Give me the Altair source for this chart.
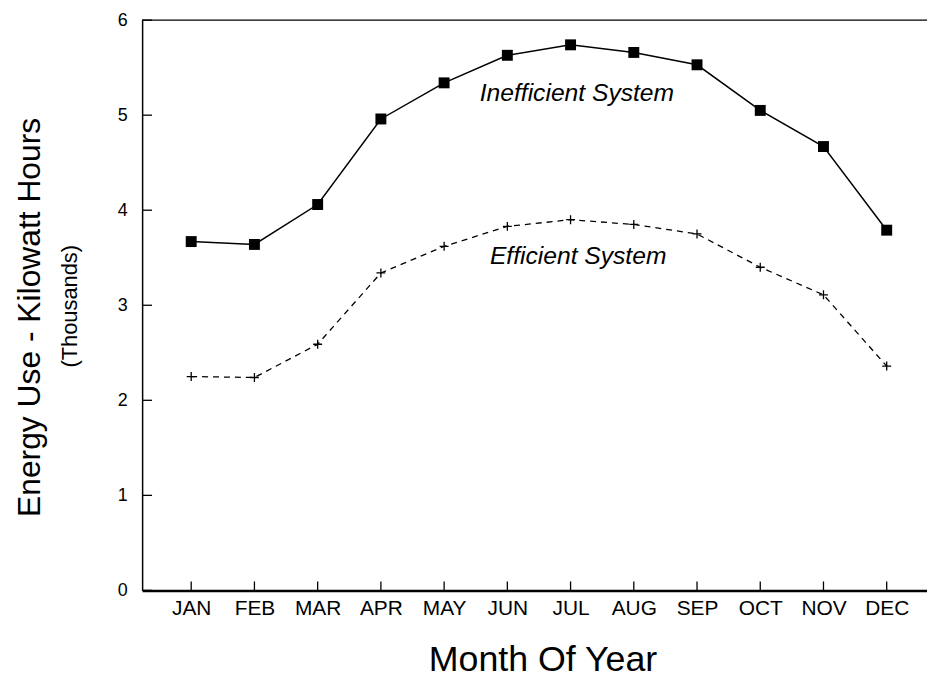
import altair as alt
import pandas as pd

months = ["JAN", "FEB", "MAR", "APR", "MAY", "JUN", "JUL", "AUG", "SEP", "OCT", "NOV", "DEC"]
inefficient = [3.67, 3.64, 4.06, 4.96, 5.34, 5.63, 5.74, 5.66, 5.53, 5.05, 4.67, 3.79]
efficient = [2.25, 2.24, 2.59, 3.34, 3.62, 3.83, 3.90, 3.85, 3.75, 3.40, 3.11, 2.36]
y_ticks = [0, 1, 2, 3, 4, 5, 6]
ann_labels = ["Inefficient System", "Efficient System"]
ann_x = [7.10, 7.12]
ann_y = [5.146, 3.433]

FONT = "Liberation Sans"
W, H = 790, 574
step = 63.64
x0 = 1 - 49.4 / step
x_dom = [x0, x0 + W / step]

idx = list(range(1, 13))
ineff_df = pd.DataFrame({"m": idx, "v": inefficient})
eff_df = pd.DataFrame({"m": idx, "v": efficient})
ann_df = pd.DataFrame({"m": ann_x, "v": ann_y, "label": ann_labels})
ytick_df = pd.DataFrame({"v": y_ticks})
xtick_df = pd.DataFrame({"m": idx})
thous_df = pd.DataFrame({"label": ["(Thousands)"]})

month_expr = "[" + ",".join("'%s'" % m for m in months) + "][datum.value - 1]"

x_axis = alt.Axis(
    values=idx, labelExpr=month_expr, grid=False, ticks=False, tickSize=0,
    domainColor="black", domainWidth=2.5, labelFont=FONT, labelFontSize=21,
    labelColor="black", labelPadding=7, title="Month Of Year", titleFont=FONT,
    titleFontSize=36, titleFontWeight="normal", titleColor="black",
    titleX=403, titleY=81, titleAlign="center", titleBaseline="alphabetic",
)
y_axis = alt.Axis(
    values=y_ticks, grid=False, ticks=False, tickSize=0, domainColor="black",
    domainWidth=1.5, labelFont=FONT, labelFontSize=18, labelColor="black",
    labelPadding=15, title="Energy Use - Kilowatt Hours", titleFont=FONT,
    titleFontSize=32, titleFontWeight="normal", titleColor="black",
    titleAngle=270, titleX=-103, titleY=298.7, titleAlign="center",
    titleBaseline="alphabetic",
)

X = alt.X("m:Q", scale=alt.Scale(domain=x_dom, nice=False, zero=False), axis=x_axis)
Y = alt.Y("v:Q", scale=alt.Scale(domain=[0, 6], nice=False), axis=y_axis)

line_ineff = alt.Chart(ineff_df).mark_line(color="black", strokeWidth=1.5).encode(x=X, y=Y)
pts_ineff = alt.Chart(ineff_df).mark_point(
    shape="square", filled=True, size=121, color="black", opacity=1
).encode(x=X, y=Y)
line_eff = alt.Chart(eff_df).mark_line(
    color="black", strokeWidth=1.3, strokeDash=[6, 5]
).encode(x=X, y=Y)
pts_eff = alt.Chart(eff_df).mark_point(
    shape="M-1,0L1,0M0,-1L0,1", filled=False, size=81, color="black",
    strokeWidth=1.3, opacity=1
).encode(x=X, y=Y)
ann = alt.Chart(ann_df).mark_text(
    font=FONT, fontSize=24.8, fontStyle="italic", color="black",
    align="center", baseline="alphabetic"
).encode(x=X, y=Y, text="label:N")

ytick = alt.Chart(ytick_df).mark_rule(color="black", strokeWidth=1.3).encode(
    y=Y, x=alt.value(0), x2=alt.value(10)
)
xtick = alt.Chart(xtick_df).mark_rule(color="black", strokeWidth=1.3).encode(
    x=X, y=alt.value(H), y2=alt.value(H - 9)
)
top_line = alt.Chart(thous_df).mark_rule(color="black", strokeWidth=1.5).encode(
    x=alt.value(0), x2=alt.value(W), y=alt.value(0)
)
thous = alt.Chart(thous_df).mark_text(
    font=FONT, fontSize=22, color="black", angle=270, align="center",
    baseline="alphabetic"
).encode(x=alt.value(-66), y=alt.value(288), text="label:N")

chart = alt.layer(
    line_ineff, line_eff, pts_ineff, pts_eff, ann, ytick, xtick, top_line, thous
).properties(
    width=W, height=H,
    autosize=alt.AutoSizeParams(type="none"),
    padding={"left": 135, "top": 10, "right": 0, "bottom": 91},
    background="white",
).configure_view(stroke=None)

chart.save("out.html", embed_options={"renderer": "svg", "actions": False})
